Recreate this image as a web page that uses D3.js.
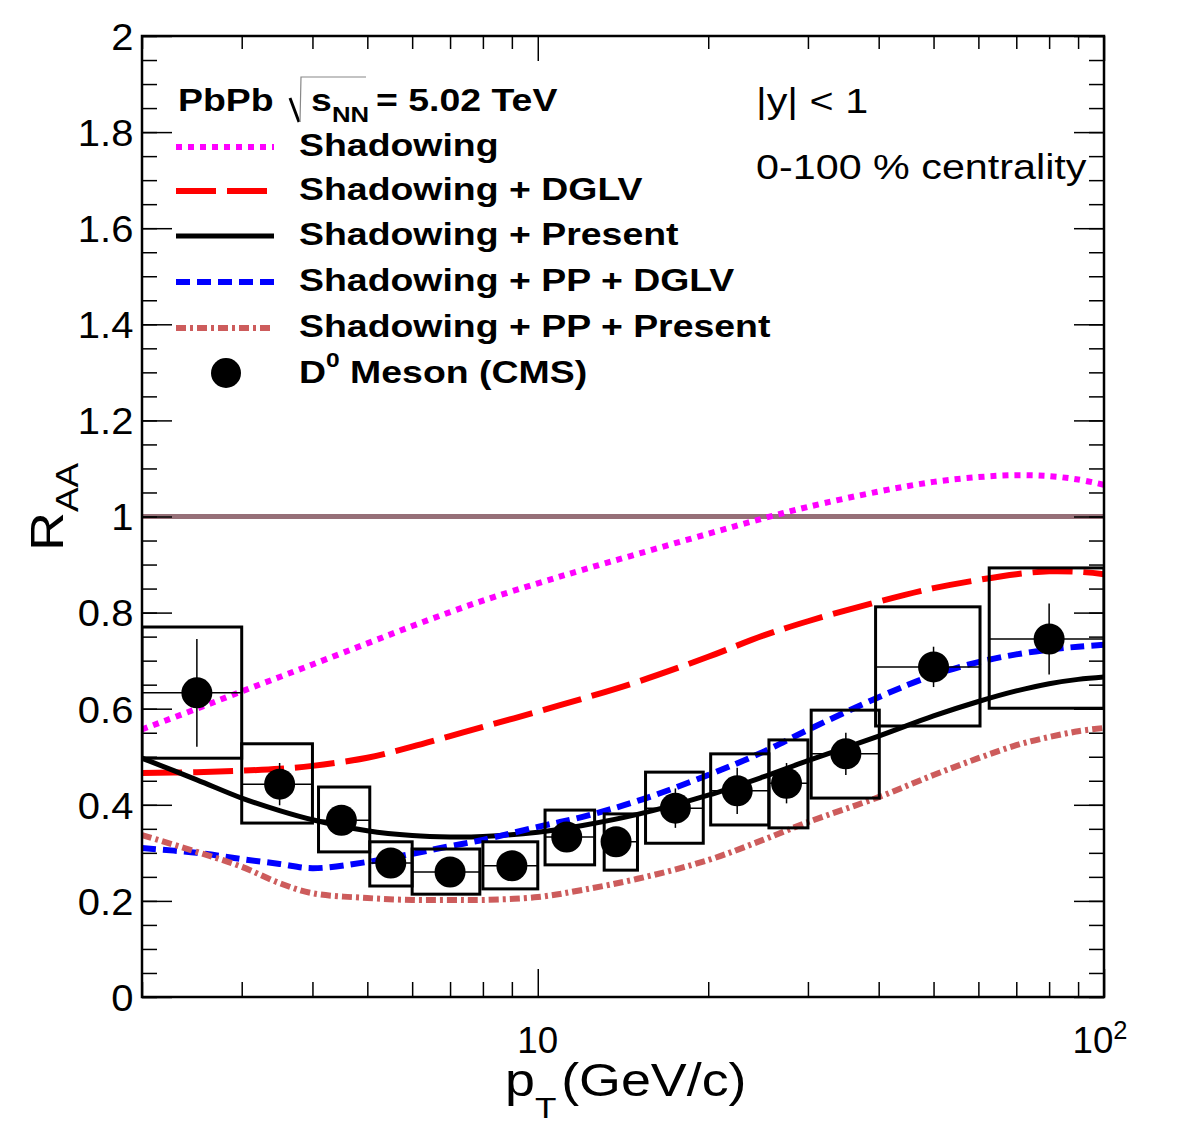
<!DOCTYPE html>
<html>
<head>
<meta charset="utf-8">
<script src="https://cdn.jsdelivr.net/npm/d3@7"></script>
<style>
  body { margin: 0; background: #fff; }
  svg { display: block; }
  text { font-family: "Liberation Sans", Arial, Helvetica, sans-serif; fill: #000; }
</style>
</head>
<body>
<svg id="chart"></svg>
<script>
// ---- theory curves (pT grid, R_AA values)
const curvePt = [2, 2.5, 3, 3.5, 4, 5, 6, 7, 8, 10, 12, 15, 20, 25, 30, 40, 50, 60, 70, 80, 90, 100];
const shadowing       = [0.557, 0.600, 0.636, 0.666, 0.692, 0.736, 0.772, 0.801, 0.825, 0.861, 0.889, 0.922, 0.964, 0.996, 1.020, 1.052, 1.072, 1.082, 1.086, 1.084, 1.077, 1.066];
const shadowDGLV      = [0.466, 0.468, 0.471, 0.475, 0.481, 0.498, 0.521, 0.543, 0.562, 0.594, 0.621, 0.656, 0.708, 0.752, 0.782, 0.823, 0.851, 0.868, 0.880, 0.886, 0.885, 0.880];
const shadowPresent   = [0.497, 0.452, 0.414, 0.388, 0.369, 0.346, 0.336, 0.333, 0.334, 0.343, 0.357, 0.380, 0.420, 0.458, 0.492, 0.543, 0.585, 0.615, 0.637, 0.652, 0.661, 0.666];
const shadowPPDGLV    = [0.310, 0.300, 0.287, 0.277, 0.268, 0.281, 0.298, 0.314, 0.327, 0.354, 0.375, 0.408, 0.462, 0.510, 0.556, 0.624, 0.670, 0.697, 0.713, 0.723, 0.729, 0.733];
const shadowPPPresent = [0.337, 0.302, 0.271, 0.237, 0.216, 0.206, 0.202, 0.202, 0.202, 0.208, 0.223, 0.246, 0.285, 0.327, 0.364, 0.416, 0.462, 0.497, 0.524, 0.541, 0.553, 0.560];

// ---- D0 meson data (CMS)
const dPt    = [2.5, 3.5, 4.5, 5.5, 7, 9, 11.25, 13.75, 17.5, 22.5, 27.5, 35, 50, 80];
const dVal   = [0.633, 0.443, 0.368, 0.279, 0.260, 0.273, 0.333, 0.323, 0.393, 0.429, 0.445, 0.506, 0.687, 0.745];
const dStat  = [0.112, 0.044, 0.020, 0.020, 0.020, 0.020, 0.020, 0.025, 0.041, 0.048, 0.042, 0.044, 0.042, 0.074];
const sysHi  = [0.770, 0.527, 0.437, 0.323, 0.308, 0.323, 0.389, 0.381, 0.468, 0.506, 0.535, 0.597, 0.812, 0.893];
const sysLo  = [0.497, 0.362, 0.302, 0.231, 0.214, 0.225, 0.275, 0.264, 0.320, 0.358, 0.352, 0.414, 0.564, 0.601];
const boxLo  = [2, 3, 4.1, 5.05, 6.0, 8.0, 10.3, 13.1, 15.5, 20.2, 25.6, 30.4, 39.5, 62.7];
const boxHi  = [3, 4, 5.05, 6.0, 7.9, 10.0, 12.6, 15.0, 19.6, 25.6, 30.0, 40.1, 60.4, 100];

// ---- ticks
const yMajor = d3.range(0, 2.001, 0.2);
const yMinor = d3.range(0, 2.001, 0.05);
const xMajor = [10, 100];
const xMinor = [2, 3, 4, 5, 6, 7, 8, 9, 20, 30, 40, 50, 60, 70, 80, 90];

// legend
const legendNames = ["Shadowing", "Shadowing + DGLV", "Shadowing + Present", "Shadowing + PP + DGLV", "Shadowing + PP + Present"];
const seriesList = [shadowing, shadowDGLV, shadowPresent, shadowPPDGLV, shadowPPPresent];
const colors = ["#ff00ff", "#ff0000", "#000000", "#0000ff", "#cd5c5c"];
const dashes = ["6,6", "40,11", null, "14,7", "10,4,3,4"];
const widths = [6, 6, 5, 6, 6];

const W = 1182, H = 1134;
const plot = { left: 142, right: 1104, top: 36, bottom: 997 };
const SX = 1.15; // text in the picture is drawn a bit wider

const svg = d3.select("#chart").attr("width", W).attr("height", H);
svg.append("rect").attr("width", W).attr("height", H).attr("fill", "#fff");

const x = d3.scaleLog().domain([2, 100]).range([plot.left, plot.right]);
const y = d3.scaleLinear().domain([0, 2]).range([plot.bottom, plot.top]);

function txt(g, px, py, str, size, opts = {}) {
    const t = g.append("text")
        .attr("transform", `translate(${px},${py}) scale(${opts.sx || SX},1)`)
        .attr("font-size", size)
        .attr("font-weight", opts.bold ? "bold" : "normal")
        .attr("text-anchor", opts.anchor || "start");
    if (str !== null) t.text(str);
    return t;
}

svg.append("clipPath").attr("id", "clip")
    .append("rect")
    .attr("x", plot.left).attr("y", plot.top)
    .attr("width", plot.right - plot.left).attr("height", plot.bottom - plot.top);

const inner = svg.append("g").attr("clip-path", "url(#clip)");

// R_AA = 1 reference line
inner.append("line")
    .attr("x1", plot.left).attr("x2", plot.right)
    .attr("y1", y(1)).attr("y2", y(1))
    .attr("stroke", "#967078").attr("stroke-width", 5);

// theory curves
const line = d3.line()
    .x(d => x(d[0]))
    .y(d => y(d[1]))
    .curve(d3.curveCatmullRom.alpha(0.5));

seriesList.forEach((vals, i) => {
    inner.append("path")
        .datum(curvePt.map((p, j) => [p, vals[j]]))
        .attr("d", line)
        .attr("fill", "none")
        .attr("stroke", colors[i])
        .attr("stroke-width", widths[i])
        .attr("stroke-dasharray", dashes[i]);
});

// data: systematic boxes, x bars, stat bars, markers
const pts = inner.append("g");
dPt.forEach((p, i) => {
    pts.append("rect")
        .attr("x", x(boxLo[i])).attr("y", y(sysHi[i]))
        .attr("width", x(boxHi[i]) - x(boxLo[i]))
        .attr("height", y(sysLo[i]) - y(sysHi[i]))
        .attr("fill", "none").attr("stroke", "#000").attr("stroke-width", 3);
    pts.append("line")
        .attr("x1", x(boxLo[i])).attr("x2", x(boxHi[i]))
        .attr("y1", y(dVal[i])).attr("y2", y(dVal[i]))
        .attr("stroke", "#000").attr("stroke-width", 1.5);
    pts.append("line")
        .attr("x1", x(p)).attr("x2", x(p))
        .attr("y1", y(dVal[i] + dStat[i])).attr("y2", y(dVal[i] - dStat[i]))
        .attr("stroke", "#000").attr("stroke-width", 1.5);
});
pts.selectAll("circle.pt")
    .data(dPt)
    .enter().append("circle")
    .attr("class", "pt")
    .attr("cx", d => x(d))
    .attr("cy", (d, i) => y(dVal[i]))
    .attr("r", 15.5)
    .attr("fill", "#000");

// ---- axes (ticks pointing inward, ROOT style)
function styleAxis(g) {
    g.select(".domain").remove();
    g.selectAll(".tick line").attr("stroke", "#000").attr("stroke-width", 1.5);
}
svg.append("g").attr("transform", `translate(${plot.left},0)`)
    .call(d3.axisLeft(y).tickValues(yMinor).tickSizeInner(-15).tickSizeOuter(0).tickFormat(""))
    .call(styleAxis);
const yAx = svg.append("g").attr("transform", `translate(${plot.left},0)`)
    .call(d3.axisLeft(y).tickValues(yMajor).tickSizeInner(-30).tickSizeOuter(0).tickPadding(8).tickFormat(d3.format("~g")))
    .call(styleAxis);
yAx.selectAll(".tick text")
    .attr("font-size", 37)
    .attr("font-family", "Liberation Sans, Arial, sans-serif")
    .attr("fill", "#000")
    .attr("dy", "0.36em")
    .attr("transform", "scale(1.08,1)");

svg.append("g").attr("transform", `translate(${plot.right},0)`)
    .call(d3.axisRight(y).tickValues(yMinor).tickSizeInner(-15).tickSizeOuter(0).tickFormat(""))
    .call(styleAxis);
svg.append("g").attr("transform", `translate(${plot.right},0)`)
    .call(d3.axisRight(y).tickValues(yMajor).tickSizeInner(-30).tickSizeOuter(0).tickFormat(""))
    .call(styleAxis);

svg.append("g").attr("transform", `translate(0,${plot.bottom})`)
    .call(d3.axisBottom(x).tickValues(xMinor).tickSizeInner(-15).tickSizeOuter(0).tickFormat(""))
    .call(styleAxis);
svg.append("g").attr("transform", `translate(0,${plot.bottom})`)
    .call(d3.axisBottom(x).tickValues(xMajor).tickSizeInner(-28).tickSizeOuter(0).tickFormat(""))
    .call(styleAxis);
svg.append("g").attr("transform", `translate(0,${plot.top})`)
    .call(d3.axisTop(x).tickValues(xMinor).tickSizeInner(-13).tickSizeOuter(0).tickFormat(""))
    .call(styleAxis);
svg.append("g").attr("transform", `translate(0,${plot.top})`)
    .call(d3.axisTop(x).tickValues(xMajor).tickSizeInner(-25).tickSizeOuter(0).tickFormat(""))
    .call(styleAxis);

// frame
svg.append("rect")
    .attr("x", plot.left).attr("y", plot.top)
    .attr("width", plot.right - plot.left).attr("height", plot.bottom - plot.top)
    .attr("fill", "none").attr("stroke", "#000").attr("stroke-width", 2.5);

// x tick labels: 10 and 10^2
txt(svg, x(10), 1053, "10", 36, { anchor: "middle", sx: 1.02 });
const lab100 = txt(svg, x(100) - 4, 1053, "10", 36, { anchor: "middle", sx: 1.02 });
lab100.append("tspan").attr("font-size", 25).attr("dy", -14).text("2");

// axis titles
const xt = txt(svg, 505, 1096, "p", 46, { sx: 1.17 });
xt.append("tspan").attr("font-size", 30).attr("dy", 22).text("T");
xt.append("tspan").attr("x", 48).attr("dy", -22).text("(GeV/c)");

const yt = svg.append("text")
    .attr("transform", `translate(63,551) rotate(-90) scale(${SX},1)`)
    .attr("font-size", 47);
yt.append("tspan").text("R");
yt.append("tspan").attr("font-size", 32).attr("dy", 15).text("AA");

// ---- header text
txt(svg, 178, 111, "PbPb", 32, { bold: true, sx: 1.17 });
svg.append("path").attr("d", "M290,98 L299,122").attr("stroke", "#000").attr("stroke-width", 3).attr("fill", "none");
svg.append("path").attr("d", "M300,122 L301,77 L366,77").attr("stroke", "#888").attr("stroke-width", 1.2).attr("fill", "none");
txt(svg, 311, 111, "s", 32, { bold: true, sx: 1.17 });
txt(svg, 332, 122, "NN", 22, { bold: true, sx: 1.17 });
txt(svg, 376, 111, "= 5.02 TeV", 32, { bold: true, sx: 1.17 });

txt(svg, 756, 113, "|y| < 1", 35, { sx: 1.18 });
txt(svg, 756, 179, "0-100 % centrality", 35, { sx: 1.18 });

// ---- legend
const rowY = [147, 191, 236, 282, 328, 373];
const leg = svg.append("g");
legendNames.forEach((name, i) => {
    leg.append("line")
        .attr("x1", 176).attr("x2", 274)
        .attr("y1", rowY[i]).attr("y2", rowY[i])
        .attr("stroke", colors[i])
        .attr("stroke-width", widths[i])
        .attr("stroke-dasharray", dashes[i]);
    txt(leg, 299, rowY[i] + 9, name, 32, { bold: true, sx: 1.17 });
});
leg.append("circle").attr("cx", 226).attr("cy", rowY[5]).attr("r", 15).attr("fill", "#000");
const dl = txt(leg, 299, rowY[5] + 10, "D", 32, { bold: true, sx: 1.17 });
dl.append("tspan").attr("font-size", 21).attr("dy", -16).text("0");
dl.append("tspan").attr("dy", 16).text(" Meson (CMS)");
</script>
</body>
</html>
